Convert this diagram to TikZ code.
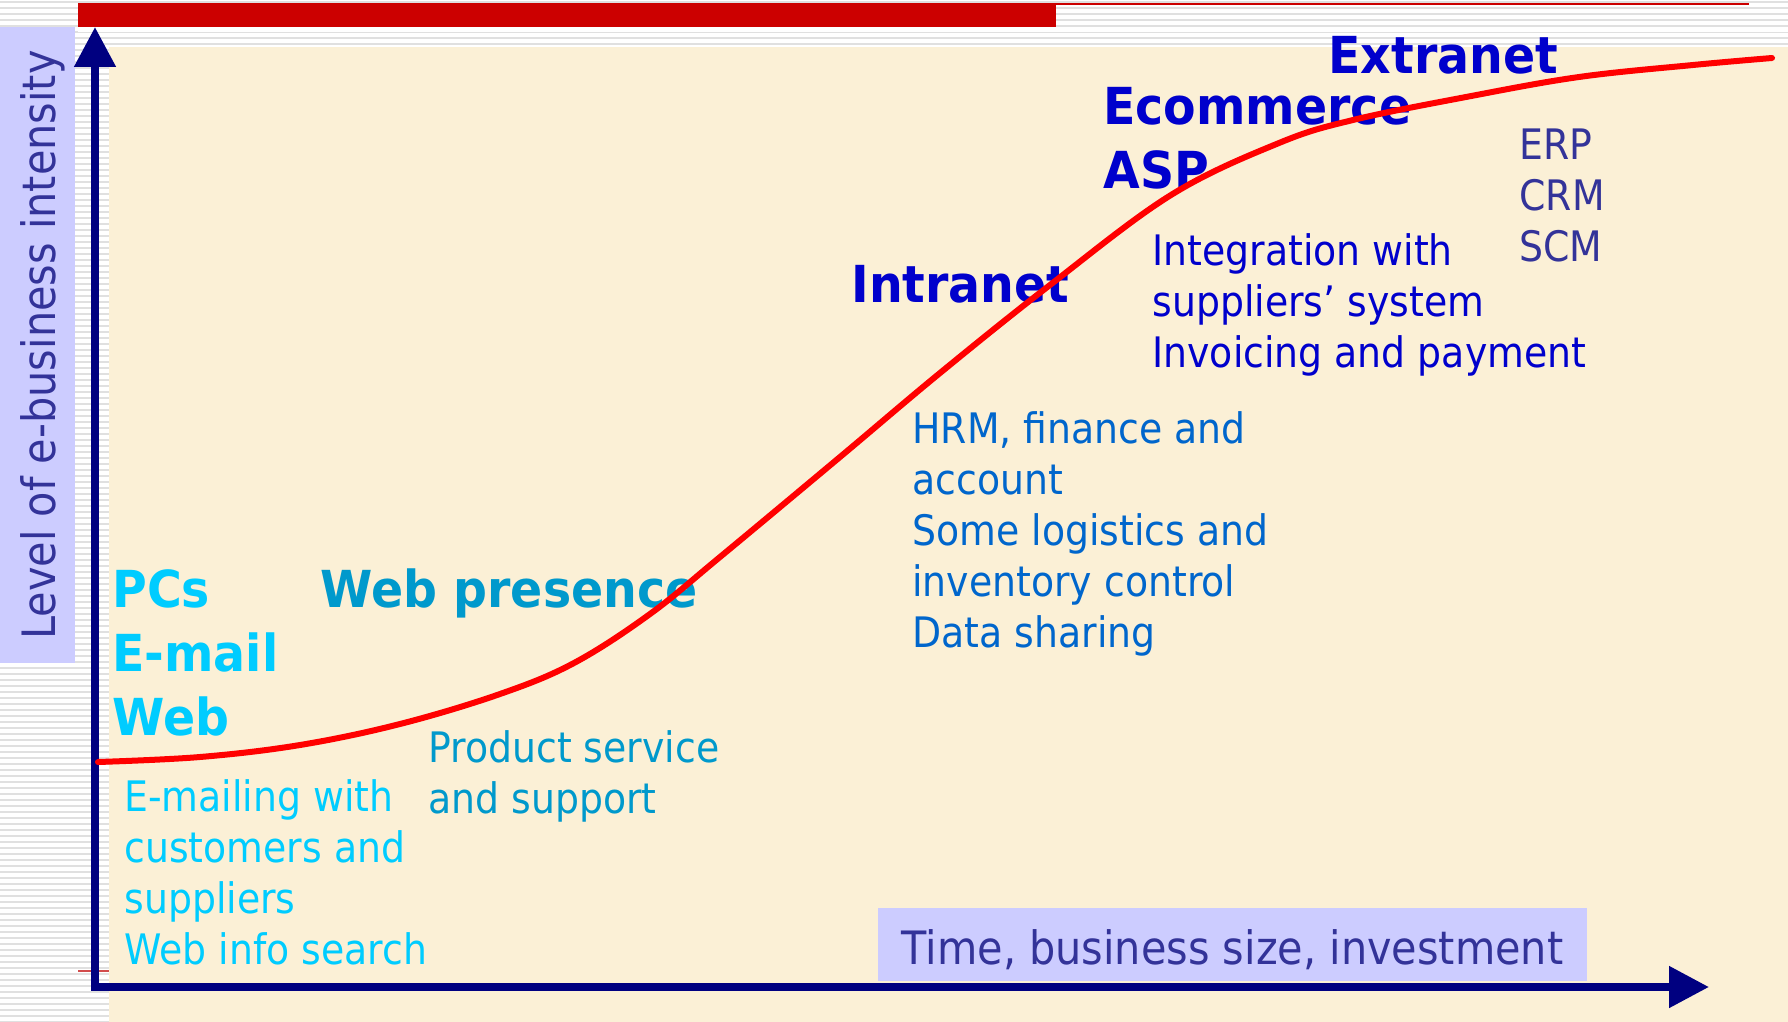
\documentclass[tikz,border=0pt]{standalone}
\usepackage{fontspec}
\setmainfont{DejaVu Sans}[UprightFeatures={FakeStretch=0.9},BoldFeatures={FakeStretch=0.93}]
\usepackage{xcolor}
\usetikzlibrary{arrows.meta}
\definecolor{axisnavy}{HTML}{000080}
\definecolor{labelfill}{HTML}{CCCCFF}
\definecolor{labeltext}{HTML}{333399}
\definecolor{parchment}{RGB}{251,240,214}
\definecolor{barred}{HTML}{CC0000}
\definecolor{skycyan}{HTML}{00CCFF}
\definecolor{tealblue}{HTML}{0099CC}
\definecolor{midblue}{HTML}{0066CC}
\definecolor{deepblue}{HTML}{0000CC}
\tikzset{
  stage/.style={font=\fontsize{25.5}{32}\selectfont\bfseries,anchor=base west,inner sep=0pt,align=left},
  detail/.style={font=\fontsize{21}{25.5}\selectfont,anchor=base west,inner sep=0pt,align=left},
  axislabel/.style={fill=labelfill,text=labeltext,font=\fontsize{23}{28}\selectfont,inner sep=0pt},
  axis/.style={draw=axisnavy,line width=4pt,{Triangle[length=20pt,width=20pt]}-{Triangle[length=20pt,width=20pt]}},
  growth/.style={draw=red,line width=3pt,line cap=round},
  stripe/.style={draw=gray!24,line width=1pt}
}
\begin{document}
\begin{tikzpicture}[x=0.5pt,y=-0.5pt]
  \useasboundingbox (0,0) rectangle (1788,1022);
  \fill[white] (0,0) rectangle (1788,1022);
  \foreach \yy in {2,8,...,1022}
    \draw[stripe] (0,\yy) -- (1788,\yy);
  \fill[white] (78,27) rectangle (1788,32);
  \draw[barred,line width=1pt] (1056,4) -- (1749,4);
  \fill[barred] (78,3) rectangle (1056,27);
  \draw[red!75!black!70,line width=0.8pt] (78,971) -- (109,971);
  \fill[parchment] (109,47) rectangle (1788,1022);

  \node (ylabel) [axislabel,rotate=90,minimum width=318pt,text height=27.5pt,text depth=10pt] at (37.5,345) {Level of e-business intensity};
  \node (xlabel) [axislabel,minimum width=354.5pt,text height=28pt,text depth=8.5pt] at (1232.5,944.5) {Time, business size, investment};

  \coordinate (ytop) at (95,27);
  \coordinate (origin) at (95,987);
  \coordinate (xend) at (1709,987);
  \draw[axis] (ytop) -- (origin) -- (xend);

  \node (pcs) [stage,text=skycyan] at (112,735) {PCs\\E-mail\\Web};
  \node (webpres) [stage,text=tealblue] at (320,607) {Web presence};
  \node (intranet) [stage,text=deepblue] at (851,302) {Intranet};
  \node (ecom) [stage,text=deepblue] at (1103,188) {Ecommerce\\ASP};
  \node (extranet) [stage,text=deepblue] at (1328,74) {Extranet};

  \node (mailing) [detail,text=skycyan] at (124,964) {E-mailing with\\customers and\\suppliers\\Web info search};
  \node (product) [detail,text=tealblue] at (428,813) {Product service\\and support};
  \node (hrm) [detail,text=midblue] at (912,647) {HRM, finance and\\account\\Some logistics and\\inventory control\\Data sharing};
  \node (integ) [detail,text=deepblue] at (1152,367) {Integration with\\suppliers’ system\\Invoicing and payment};
  \node (erp) [detail,text=labeltext] at (1519,261) {ERP\\CRM\\SCM};

  \draw[growth] plot[smooth,tension=0.6] coordinates {(98,762) (200,757) (300,745) (400,724) (500,694) (574,663) (650,614) (720,557) (840,457) (940,373) (1050,285) (1171,195) (1279,143) (1353,120) (1466,97) (1579,77) (1693,65) (1772,58)};
\end{tikzpicture}
\end{document}
